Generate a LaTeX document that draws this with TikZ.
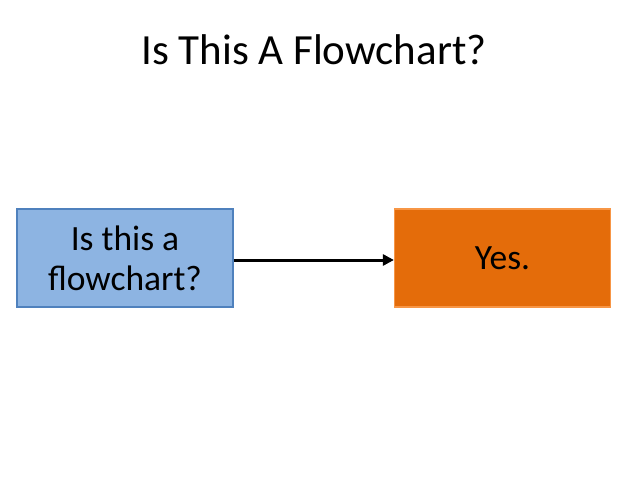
\documentclass[tikz,border=0pt]{standalone}
\usepackage{fontspec}
\setmainfont{Carlito}
\usetikzlibrary{arrows.meta}
\definecolor{qblue}{HTML}{8DB4E2}
\definecolor{qbluedge}{HTML}{4F81BD}
\definecolor{ansorange}{HTML}{E46C0A}
\definecolor{ansedge}{HTML}{F79646}
\tikzset{
  box/.style={draw, line width=1.2pt, minimum width=216pt, minimum height=98pt,
    inner sep=0pt, align=center, font=\fontsize{35.5}{40}\selectfont},
}
\begin{document}
\begin{tikzpicture}[x=1pt,y=-1pt]
      \useasboundingbox (0,0) rectangle (640,500);
      \node (title) at (314,50) {\fontsize{43}{50}\selectfont Is This A Flowchart?};
      \node[box, fill=qblue, draw=qbluedge] (question) at (125,258) {Is this a\\flowchart?};
      \node[box, fill=ansorange, draw=ansedge] (answer) at (502.5,258) {Yes.};
      \begin{scope}[-{Triangle[length=11pt,width=11pt]}]
        \draw[line width=3pt] (question.east |- 0,260) to (answer.west |- 0,260);
      \end{scope}
    \end{tikzpicture}
\end{document}
